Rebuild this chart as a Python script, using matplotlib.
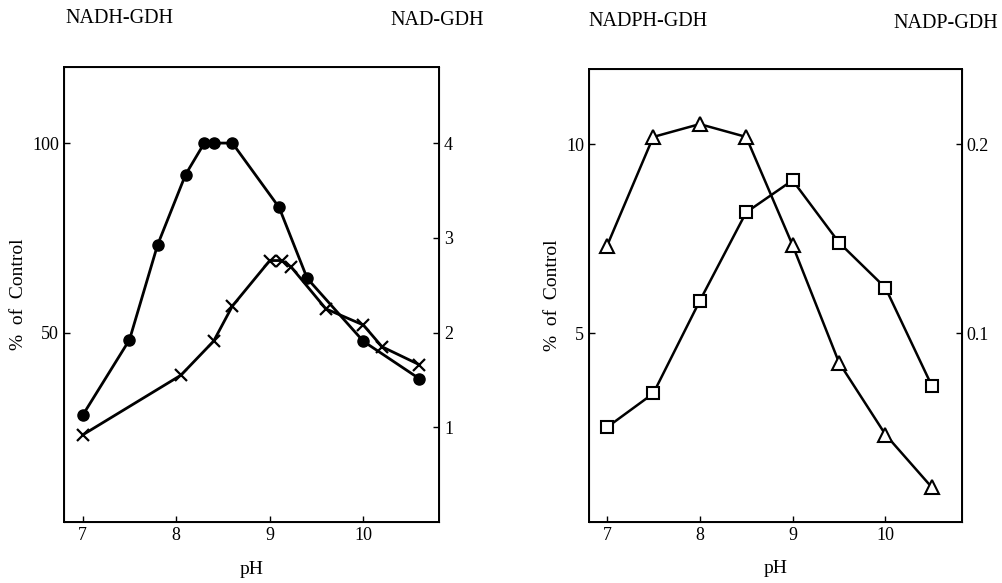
import matplotlib
matplotlib.use("Agg")
import matplotlib.pyplot as plt

plt.rcParams['font.family'] = ['Liberation Serif', 'DejaVu Serif']

# left panel: NADH-GDH (% of control, left axis) and NAD-GDH (right axis)
ph_nadh = [7.0, 7.5, 7.8, 8.1, 8.3, 8.4, 8.6, 9.1, 9.4, 10.0, 10.6]
nadh = [28.2, 48.1, 73.1, 91.7, 100, 100, 100, 83.0, 64.3, 47.7, 37.8]
ph_nad = [7.0, 8.05, 8.4, 8.6, 9.0, 9.13, 9.23, 9.6, 10.0, 10.2, 10.6]
nad = [0.92, 1.55, 1.91, 2.28, 2.76, 2.76, 2.69, 2.25, 2.08, 1.85, 1.66]

# right panel: NADPH-GDH (left axis) and NADP-GDH (right axis)
ph_nadph = [7.0, 7.5, 8.0, 8.5, 9.0, 9.5, 10.0, 10.5]
nadph = [7.30, 10.2, 10.54, 10.2, 7.33, 4.22, 2.31, 0.91]
ph_nadp = [7.0, 7.5, 8.0, 8.5, 9.0, 9.5, 10.0, 10.5]
nadp = [0.050, 0.068, 0.117, 0.164, 0.181, 0.148, 0.124, 0.072]

xticks = [7, 8, 9, 10]
fs = 13

fig = plt.figure(figsize=(10.02, 5.83), dpi=100)


def style(ax, tw):
    ax.tick_params(direction='in', length=4, width=1, labelsize=fs)
    for s in ax.spines.values():
        s.set_linewidth(1.4)
    tw.tick_params(direction='in', length=4, width=1, labelsize=fs)


# ---- left panel
ax1 = fig.add_axes([0.0639, 0.1046, 0.3743, 0.780])
ax1.plot(ph_nadh, nadh, color='black', lw=2, marker='o', ms=8)
ax1.set_xlim(6.8, 10.81)
ax1.set_ylim(0, 120)
ax1.set_yticks([50, 100])
ax1.set_xticks(xticks)
ax1.set_xlabel('pH', fontsize=fs + 1, labelpad=12)
ax1.set_ylabel('%  of  Control', fontsize=fs + 1)
tw1 = ax1.twinx()
tw1.plot(ph_nad, nad, color='black', lw=2, marker='x', ms=8, mew=1.6)
tw1.set_ylim(0, 4.8)
tw1.set_yticks([1, 2, 3, 4])
style(ax1, tw1)
fig.text(0.065, 0.968, 'NADH-GDH', fontsize=fs + 1.5, va='center')
fig.text(0.39, 0.965, 'NAD-GDH', fontsize=fs + 1.5, va='center')

# ---- right panel
ax2 = fig.add_axes([0.588, 0.1051, 0.3717, 0.7765])
ax2.plot(ph_nadph, nadph, color='black', lw=1.8, marker='^', ms=10,
         mfc='white', mec='black', mew=1.5)
ax2.set_xlim(6.81, 10.82)
ax2.set_ylim(0, 12)
ax2.set_yticks([5, 10])
ax2.set_xticks(xticks)
ax2.set_xlabel('pH', fontsize=fs + 1, labelpad=12)
ax2.set_ylabel('%  of  Control', fontsize=fs + 1)
tw2 = ax2.twinx()
tw2.plot(ph_nadp, nadp, color='black', lw=1.8, marker='s', ms=8,
         mfc='white', mec='black', mew=1.5)
tw2.set_ylim(0, 0.24)
tw2.set_yticks([0.1, 0.2])
tw2.set_yticklabels(['0.1', '0.2'])
style(ax2, tw2)
fig.text(0.587, 0.963, 'NADPH-GDH', fontsize=fs + 1.5, va='center')
fig.text(0.892, 0.96, 'NADP-GDH', fontsize=fs + 1.5, va='center')

fig.savefig('out.png', dpi=100)
